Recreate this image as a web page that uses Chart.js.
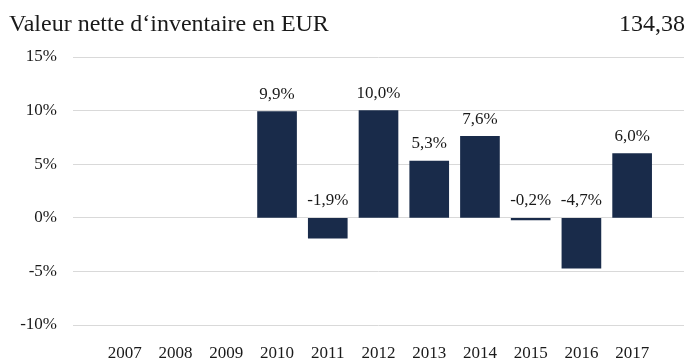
<!DOCTYPE html>
<html>
<head>
<meta charset="utf-8">
<script src="https://cdn.jsdelivr.net/npm/chart.js@4.4.1/dist/chart.umd.min.js"></script>
<style>
  html, body { margin: 0; padding: 0; background: #ffffff; }
  #wrap { position: relative; width: 699px; height: 358px; }
  #chart { position: absolute; left: 0; top: 0; }
  .hdr { position: absolute; top: 8px; font-family: "Liberation Serif", "Times New Roman", serif; font-size: 24px; color: #1a1a1a; line-height: 30px; }
  #ttl { left: 9px; }
  #nav { right: 14px; }
</style>
</head>
<body>
<div id="wrap">
  <canvas id="chart" width="699" height="358"></canvas>
  <div class="hdr" id="ttl">Valeur nette d‘inventaire en EUR</div>
  <div class="hdr" id="nav">134,38</div>
</div>
<script>
// Annual performance of the fund, in percent
const years = ['2007', '2008', '2009', '2010', '2011', '2012', '2013', '2014', '2015', '2016', '2017'];
const performance = [null, null, null, 9.9, -1.9, 10.0, 5.3, 7.6, -0.2, -4.7, 6.0];
const yTicks = [-10, -5, 0, 5, 10, 15];

const FONT = '"Liberation Serif", "Times New Roman", serif';
const BAR_COLOR = '#192b4a';

const fmt = v => v.toFixed(1).replace('.', ',') + '%';

// Value labels drawn just above each bar (or above the zero line for negatives)
const valueLabels = {
  id: 'valueLabels',
  afterDatasetsDraw(chart) {
    const ctx = chart.ctx;
    const y = chart.scales.y;
    const meta = chart.getDatasetMeta(0);
    ctx.save();
    ctx.font = '17px ' + FONT;
    ctx.fillStyle = '#1a1a1a';
    ctx.textAlign = 'center';
    ctx.textBaseline = 'middle';
    performance.forEach((v, i) => {
      if (v === null) return;
      const el = meta.data[i];
      const top = y.getPixelForValue(Math.max(0, v));
      ctx.fillText(fmt(v), el.x, top - 17);
    });
    ctx.restore();
  }
};

new Chart(document.getElementById('chart'), {
  type: 'bar',
  data: {
    datasets: [{
      data: performance.map((v, i) => ({ x: i, y: v })),
      backgroundColor: BAR_COLOR,
      borderWidth: 0,
      barThickness: 39
    }]
  },
  options: {
    responsive: false,
    animation: false,
    layout: { padding: { top: 57, right: 15, left: 0, bottom: 0 } },
    plugins: { legend: { display: false }, tooltip: { enabled: false } },
    scales: {
      x: {
        type: 'linear',
        min: -0.475,
        max: years.length - 1 + 0.475,
        afterBuildTicks(scale) { scale.ticks = years.map((_, i) => ({ value: i })); },
        afterFit(scale) { scale.height = 33; },
        grid: { display: false, drawTicks: false },
        border: { display: false },
        ticks: {
          autoSkip: false,
          maxRotation: 0,
          padding: 18,
          color: '#1a1a1a',
          font: { family: FONT, size: 17 },
          callback: v => years[v]
        }
      },
      y: {
        min: -10,
        max: 15,
        afterBuildTicks(scale) { scale.ticks = yTicks.map(v => ({ value: v })); },
        afterFit(scale) { scale.width = 73; },
        grid: { color: '#d9d9d9', lineWidth: 1, drawTicks: false },
        border: { display: false },
        ticks: {
          padding: 16,
          color: '#1a1a1a',
          font: { family: FONT, size: 17 },
          callback: v => v + '%'
        }
      }
    }
  },
  plugins: [valueLabels]
});
</script>
</body>
</html>
